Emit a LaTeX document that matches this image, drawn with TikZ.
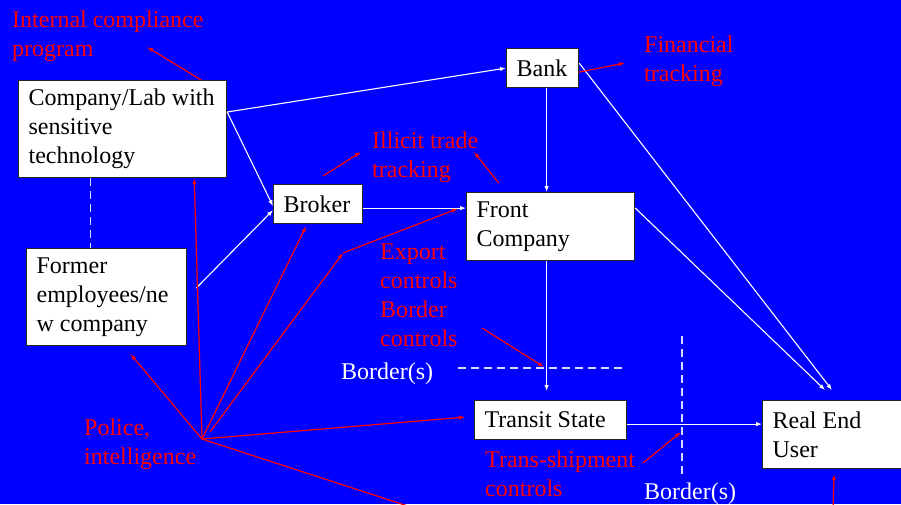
\documentclass[tikz,border=0pt]{standalone}
\usepackage{fontspec}
\setmainfont{Liberation Serif}
\usetikzlibrary{arrows.meta,calc}
\definecolor{bg}{RGB}{0,0,255}
\tikzset{
 box/.style={draw=black!85, line width=1.2pt, fill=white, anchor=north west, inner xsep=10pt, inner ysep=0pt, align=flush left, font=\fontsize{24}{29}\selectfont, text=black},
 lbl/.style={anchor=base west, inner sep=0pt, align=flush left, font=\fontsize{24}{29}\selectfont, text=red},
 wlbl/.style={lbl, text=white},
 wline/.style={draw=white, line width=1.1pt, -{Latex[length=6pt,width=4.5pt]}},
 rline/.style={draw=red, line width=1.2pt, -{Latex[length=6pt,width=4.5pt]}},
 border/.style={draw=white!85!blue, line width=1.3pt, dash pattern=on 8pt off 5pt},
}
\begin{document}
\begin{tikzpicture}[x=1pt,y=-1pt]
\clip (0,0) rectangle (901,504);
\fill[bg] (0,0) rectangle (901,504);

% boxes
\node[box, text width=188pt, minimum height=97pt] (comp) at (18,80) {Company/Lab with\\sensitive\\technology};
\node[box, text width=140pt, minimum height=97pt] (former) at (26,248) {Former\\employees/ne\\w company};
\node[box, text width=69pt, minimum height=39pt] (broker) at (273,184) {Broker};
\node[box, text width=148pt, minimum height=68pt] (front) at (466,192) {Front\\Company};
\node[box, text width=52pt, minimum height=39pt] (bank) at (506,48) {Bank};
\node[box, text width=132pt, minimum height=39pt] (transit) at (474,400) {Transit State};
\node[box, text width=123pt, minimum height=68pt] (user) at (762,400) {Real End\\User};

% labels (base = baseline of last line)
\node[lbl] (icp) at (12,56) {Internal compliance\\program};
\node[lbl] (fin) at (644,81) {Financial\\tracking};
\node[lbl] (itt) at (372,177) {Illicit trade\\tracking};
\node[lbl] (exp) at (380,346) {Export\\controls\\Border\\controls};
\node[lbl] (pol) at (84,464) {Police,\\intelligence};
\node[lbl] (tsc) at (485,496) {Trans-shipment\\controls};
\node[wlbl] (b1) at (341,379) {Border(s)};
\node[wlbl] (b2) at (644,499) {Border(s)};

% borders
\coordinate (bh1) at (458,368);
\coordinate (bh2) at (626,368);
\coordinate (bv1) at (682,336);
\coordinate (bv2) at (682,478);
\draw[border] (bh1) -- (bh2);
\draw[border] (bv1) -- (bv2);
\draw[border, line width=1.1pt] ([xshift=-32pt]comp.south) -- ([xshift=-32pt]comp.south |- former.north);

% white flows
\draw[wline] ([yshift=-32pt]comp.north east) -- (bank.west);
\draw[wline] ([yshift=-32pt]comp.north east) -- ([yshift=-2pt]broker.west);
\draw[wline] ([xshift=9pt,yshift=9pt]former.east) -- ([yshift=-6pt]broker.west);
\draw[wline] ([yshift=-4pt]broker.east) -- ([yshift=-4pt]broker.east -| front.west);
\draw[wline] ([xshift=4pt]bank.south) -- ([xshift=4pt]bank.south |- front.north);
\draw[wline] ([yshift=5pt]bank.east) -- ([xshift=70pt,yshift=10pt]user.north west);
\draw[wline] ([yshift=-16pt]front.north east) -- ([xshift=63pt,yshift=10pt]user.north west);
\draw[wline] ([xshift=-4pt]front.south) -- ([xshift=-4pt,yshift=9pt]transit.north);
\draw[wline] ([yshift=-4pt]transit.east) -- ([yshift=-4pt]transit.east -| user.west);

% red control arrows
\coordinate (P) at (202,439);
\coordinate (P2) at (210,432);
\coordinate (E) at (343,253);
\coordinate (icpT) at (147,47);
\coordinate (finT) at (625,63);
\coordinate (itt1) at (361,152);
\coordinate (itt2) at (474,152);
\coordinate (bcS) at (482,328);
\coordinate (bcT) at (544,367);
\coordinate (tsS) at (643,463);
\coordinate (tsT) at (681,432);
\coordinate (off) at (420,510);
\coordinate (uS) at (833,510);

\draw[rline] ([xshift=-26pt]comp.north east) -- (icpT);
\draw[rline] ([yshift=-4pt]bank.east) -- (finT);
\draw[rline] ([xshift=5pt,yshift=8pt]broker.north) -- (itt1);
\draw[rline] ([xshift=-52pt,yshift=9pt]front.north) -- (itt2);
\draw[rline] (P) -- ([xshift=-33pt]comp.south east);
\draw[rline] (P) -- ([xshift=24pt,yshift=-8pt]former.south);
\draw[rline] (P) -- ([xshift=-12pt,yshift=-2pt]broker.south);
\draw[rline] (P2) -- (E);
\draw[rline] (E) -- ([xshift=-8pt,yshift=18pt]front.west);
\draw[rline] (P) -- ([xshift=-9pt,yshift=3pt]transit.west);
\draw[rline] (P) -- (off);
\draw[rline] (bcS) -- (bcT);
\draw[rline] (tsS) -- (tsT);
\draw[rline] (uS) -- ([yshift=-5pt]user.south);
\end{tikzpicture}
\end{document}
